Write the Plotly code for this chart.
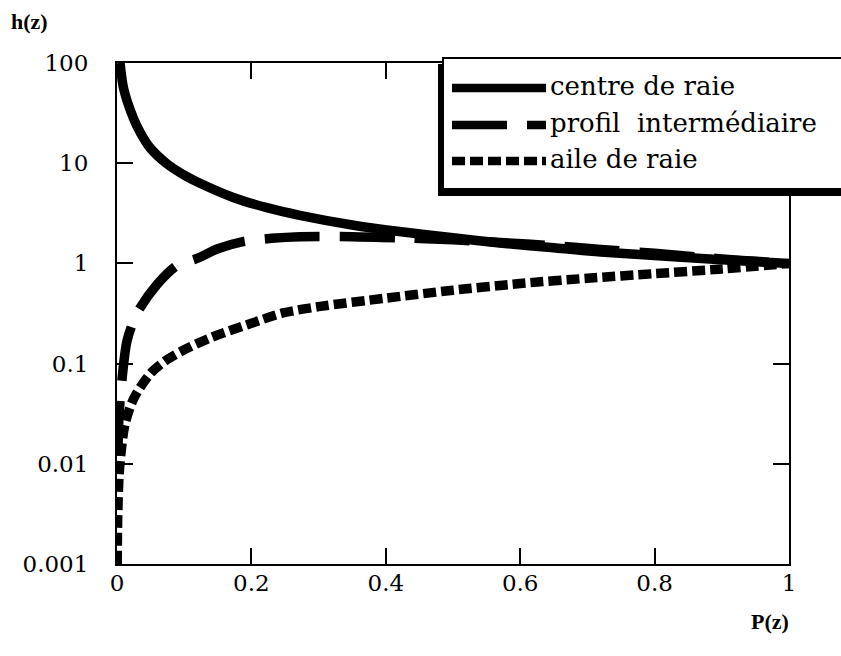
import plotly.graph_objects as go

# ---- data ----
p_centre = [0.0045, 0.01, 0.024, 0.035, 0.049, 0.074, 0.1, 0.1235, 0.173, 0.223, 0.272,
            0.35, 0.42, 0.5, 0.57, 0.65, 0.72, 0.8, 0.87, 0.93, 1.0]
h_centre = [100, 55, 28.6, 20, 14.3, 9.9, 7.6, 6.3, 4.55, 3.6, 3.02,
            2.42, 2.08, 1.8, 1.6, 1.43, 1.3, 1.2, 1.12, 1.06, 1.0]

p_inter = [0.0012, 0.003, 0.0075, 0.015, 0.03, 0.06, 0.089, 0.119, 0.15, 0.1875, 0.23,
           0.272, 0.35, 0.42, 0.5, 0.57, 0.65, 0.72, 0.8, 0.87, 0.93, 1.0]
h_inter = [0.012, 0.03, 0.07, 0.17, 0.32, 0.62, 0.95, 1.12, 1.4, 1.65, 1.78,
           1.85, 1.85, 1.8, 1.72, 1.62, 1.5, 1.38, 1.26, 1.15, 1.07, 1.0]

p_aile = [0.0003, 0.001, 0.003, 0.006, 0.012, 0.025, 0.05, 0.075, 0.098, 0.138, 0.198,
          0.247, 0.3, 0.4, 0.5, 0.6, 0.7, 0.8, 0.9, 1.0]
h_aile = [0.001, 0.0028, 0.0075, 0.013, 0.025, 0.045, 0.08, 0.11, 0.135, 0.18, 0.25,
          0.32, 0.37, 0.45, 0.54, 0.63, 0.71, 0.79, 0.88, 1.0]

series_names = ["centre de raie", "profil  intermédiaire", "aile de raie"]
series_dash = ["solid", "55px,20px", "13px,5px"]

x_tickvals = [0, 0.2, 0.4, 0.6, 0.8, 1]
x_ticktext = ["0", "0.2", "0.4", "0.6", "0.8", "1"]
y_tickvals = [0.001, 0.01, 0.1, 1, 10, 100]
y_ticktext = ["0.001", "0.01", "0.1", "1", "10", "100"]

W, H = 841, 656
L, R, T, B = 117, 52, 63, 92
PW, PH = W - L - R, H - T - B

def px(xp):
    return (xp - L) / PW

def py(yp):
    return (H - B - yp) / PH

FONT = "DejaVu Serif"
TFONT = "Liberation Serif"
LW = 9.5

fig = go.Figure()
for p, h, name, dash in zip([p_centre, p_inter, p_aile], [h_centre, h_inter, h_aile],
                            series_names, series_dash):
    fig.add_trace(go.Scatter(x=p, y=h, mode="lines", name=name, showlegend=False,
                             line=dict(color="black", width=LW, dash=dash, shape="spline",
                                       smoothing=0.8)))

shapes = []
# legend shadow and box
shapes.append(dict(type="rect", xref="paper", yref="paper", layer="above",
                   x0=px(438), x1=px(850), y0=py(196), y1=py(64),
                   fillcolor="black", line=dict(width=0)))
shapes.append(dict(type="rect", xref="paper", yref="paper", layer="above",
                   x0=px(443), x1=px(850), y0=py(189), y1=py(58),
                   fillcolor="white", line=dict(color="black", width=2)))
annotations = []
row_y = [88, 125, 161]
for ry, name, dash in zip(row_y, series_names, series_dash):
    shapes.append(dict(type="line", xref="paper", yref="paper", layer="above",
                       x0=px(452), x1=px(546), y0=py(ry), y1=py(ry),
                       line=dict(color="black", width=LW - 1, dash=dash)))
    annotations.append(dict(xref="paper", yref="paper", x=px(548), y=py(ry - 2),
                            xanchor="left", yanchor="middle", showarrow=False,
                            text=name, font=dict(family=FONT, size=26, color="black")))

annotations.append(dict(xref="paper", yref="paper", x=px(30), y=py(21),
                        xanchor="center", yanchor="middle", showarrow=False,
                        text="<b>h(z)</b>", font=dict(family=TFONT, size=22, color="black")))
annotations.append(dict(xref="paper", yref="paper", x=px(770), y=py(621),
                        xanchor="center", yanchor="middle", showarrow=False,
                        text="<b>P(z)</b>", font=dict(family=TFONT, size=22, color="black")))

axis_common = dict(showgrid=False, zeroline=False, showline=True, linecolor="black",
                   linewidth=2, mirror="ticks", ticks="inside", ticklen=16, tickwidth=1.5,
                   tickcolor="black", tickfont=dict(family=FONT, size=23, color="black"))

fig.update_layout(
    width=W, height=H,
    margin=dict(l=L, r=R, t=T, b=B, autoexpand=False),
    paper_bgcolor="white", plot_bgcolor="white",
    showlegend=False,
    xaxis=dict(range=[0, 1], tickvals=x_tickvals, ticktext=x_ticktext,
               ticklabelstandoff=-3, **axis_common),
    yaxis=dict(type="log", range=[-3, 2], tickvals=y_tickvals, ticktext=y_ticktext,
               ticklabelstandoff=22, **axis_common),
    shapes=shapes, annotations=annotations,
)

fig.write_html("out.html")
